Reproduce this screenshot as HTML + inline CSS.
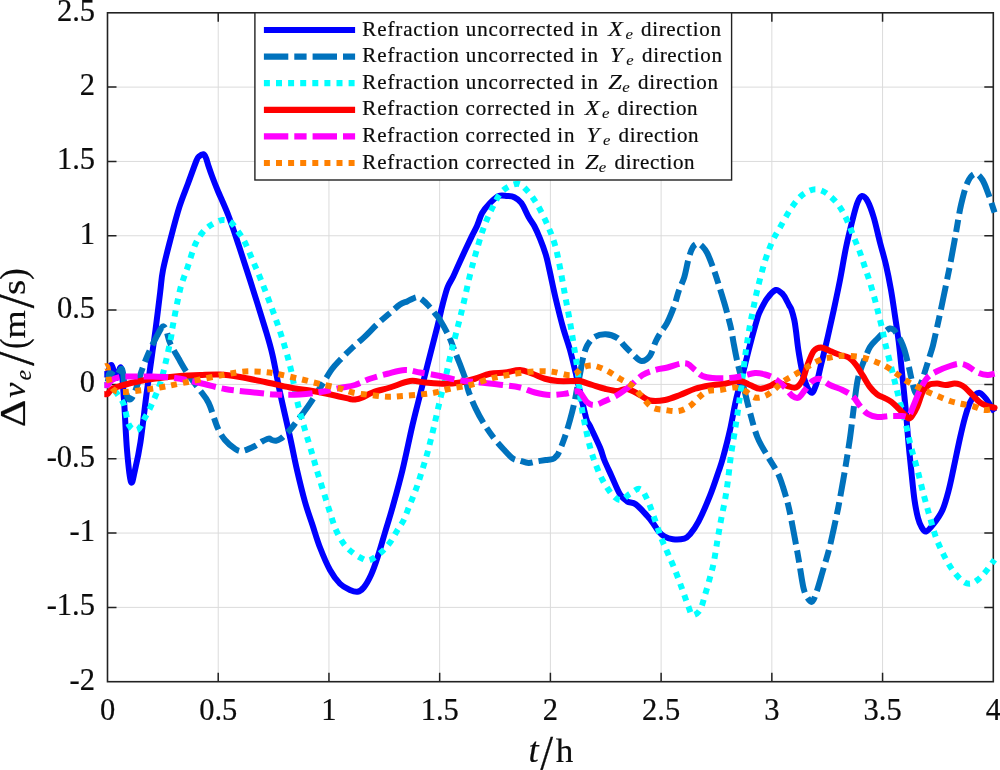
<!DOCTYPE html>
<html><head><meta charset="utf-8"><title>Refraction velocity error</title>
<style>html,body{margin:0;padding:0;background:#fff}svg{display:block}text{font-family:"Liberation Serif",serif;fill:#0c0c0c;stroke:#0c0c0c;stroke-width:.22px}.tk{font-size:30.5px}.lb{font-size:34px}.lg{font-size:21px}.it{font-style:italic}</style></head><body>
<svg width="1000" height="770" viewBox="0 0 1000 770">
<rect width="1000" height="770" fill="#fff"/>
<path d="M218.22,12.8V681.7M328.95,12.8V681.7M439.67,12.8V681.7M550.40,12.8V681.7M661.12,12.8V681.7M771.85,12.8V681.7M882.57,12.8V681.7M107.5,607.38H993.3M107.5,533.06H993.3M107.5,458.73H993.3M107.5,384.41H993.3M107.5,310.09H993.3M107.5,235.77H993.3M107.5,161.44H993.3M107.5,87.12H993.3" stroke="#dbdbdb" stroke-width="1" fill="none"/>
<path d="M218.22,681.7v-9M218.22,12.8v9M328.95,681.7v-9M328.95,12.8v9M439.67,681.7v-9M439.67,12.8v9M550.40,681.7v-9M550.40,12.8v9M661.12,681.7v-9M661.12,12.8v9M771.85,681.7v-9M771.85,12.8v9M882.57,681.7v-9M882.57,12.8v9M107.5,607.38h9M993.3,607.38h-9M107.5,533.06h9M993.3,533.06h-9M107.5,458.73h9M993.3,458.73h-9M107.5,384.41h9M993.3,384.41h-9M107.5,310.09h9M993.3,310.09h-9M107.5,235.77h9M993.3,235.77h-9M107.5,161.44h9M993.3,161.44h-9M107.5,87.12h9M993.3,87.12h-9" stroke="#222222" stroke-width="1.5" fill="none"/>
<rect x="107.5" y="12.8" width="885.8" height="668.9000000000001" fill="none" stroke="#222222" stroke-width="1.6"/>
<g fill="none" stroke-linejoin="round">
<path id="cB" d="M104.30,374.00C104.83,374.00 106.30,375.50 107.50,374.00C108.70,372.50 110.00,364.33 111.50,365.00C113.00,365.67 114.92,377.50 116.50,378.00C118.08,378.50 119.75,364.33 121.00,368.00C122.25,371.67 123.00,386.33 124.00,400.00C125.00,413.67 125.83,436.33 127.00,450.00C128.17,463.67 129.67,478.67 131.00,482.00C132.33,485.33 133.42,476.67 135.00,470.00C136.58,463.33 138.60,454.50 140.50,442.00C142.40,429.50 144.48,409.50 146.40,395.00C148.32,380.50 150.48,365.83 152.00,355.00C153.52,344.17 154.13,340.50 155.50,330.00C156.87,319.50 158.95,302.00 160.20,292.00C161.45,282.00 161.27,278.88 163.00,270.00C164.73,261.12 167.88,249.23 170.60,238.75C173.32,228.27 176.37,216.39 179.30,207.10C182.23,197.81 185.33,190.77 188.20,183.00C191.07,175.23 194.70,164.92 196.50,160.50C198.30,156.08 197.85,157.53 199.00,156.50C200.15,155.47 202.23,154.05 203.40,154.30C204.57,154.55 205.15,156.05 206.00,158.00C206.85,159.95 207.50,163.00 208.50,166.00C209.50,169.00 210.50,172.00 212.00,176.00C213.50,180.00 214.73,183.33 217.50,190.00C220.27,196.67 225.08,206.83 228.60,216.00C232.12,225.17 235.03,234.33 238.60,245.00C242.17,255.67 245.60,266.17 250.00,280.00C254.40,293.83 261.25,315.50 265.00,328.00C268.75,340.50 270.00,344.25 272.50,355.00C275.00,365.75 277.08,378.83 280.00,392.50C282.92,406.17 287.17,424.08 290.00,437.00C292.83,449.92 294.50,459.17 297.00,470.00C299.50,480.83 302.42,492.83 305.00,502.00C307.58,511.17 310.00,517.42 312.50,525.00C315.00,532.58 317.08,540.00 320.00,547.50C322.92,555.00 326.67,563.96 330.00,570.00C333.33,576.04 336.67,580.42 340.00,583.75C343.33,587.08 347.08,588.67 350.00,590.00C352.92,591.33 355.21,592.17 357.50,591.75C359.79,591.33 361.50,590.29 363.75,587.50C366.00,584.71 368.71,580.00 371.00,575.00C373.29,570.00 375.17,564.58 377.50,557.50C379.83,550.42 382.50,540.83 385.00,532.50C387.50,524.17 389.58,517.92 392.50,507.50C395.42,497.08 399.17,483.75 402.50,470.00C405.83,456.25 409.58,437.50 412.50,425.00C415.42,412.50 417.50,405.00 420.00,395.00C422.50,385.00 424.58,376.50 427.50,365.00C430.42,353.50 435.00,336.00 437.50,326.00C440.00,316.00 440.83,311.42 442.50,305.00C444.17,298.58 445.75,292.17 447.50,287.50C449.25,282.83 450.92,281.35 453.00,277.00C455.08,272.65 456.93,268.05 460.00,261.40C463.07,254.75 468.55,243.05 471.40,237.10C474.25,231.15 475.32,229.72 477.10,225.70C478.88,221.68 479.95,216.78 482.10,213.00C484.25,209.22 487.25,205.83 490.00,203.00C492.75,200.17 495.75,197.17 498.60,196.00C501.45,194.83 504.48,195.78 507.10,196.00C509.72,196.22 511.92,196.13 514.30,197.30C516.68,198.47 519.02,199.72 521.40,203.00C523.78,206.28 526.45,213.17 528.60,217.00C530.75,220.83 532.40,222.40 534.30,226.00C536.20,229.60 538.10,233.88 540.00,238.60C541.90,243.32 544.20,249.40 545.70,254.30C547.20,259.20 547.33,260.62 549.00,268.00C550.67,275.38 553.38,288.75 555.70,298.60C558.02,308.45 560.52,318.53 562.90,327.10C565.28,335.67 567.87,342.37 570.00,350.00C572.13,357.63 574.37,367.40 575.70,372.90C577.03,378.40 576.28,375.57 578.00,383.00C579.72,390.43 584.00,410.33 586.00,417.50C588.00,424.67 587.67,421.00 590.00,426.00C592.33,431.00 597.62,441.83 600.00,447.50C602.38,453.17 602.40,455.30 604.30,460.00C606.20,464.70 608.78,469.98 611.40,475.70C614.02,481.42 617.38,490.02 620.00,494.30C622.62,498.58 624.48,499.73 627.10,501.40C629.72,503.07 632.37,501.92 635.70,504.30C639.03,506.68 644.23,512.60 647.10,515.70C649.97,518.80 650.98,520.28 652.90,522.90C654.82,525.52 656.70,529.15 658.60,531.40C660.50,533.65 661.92,535.08 664.30,536.40C666.68,537.72 669.57,538.93 672.90,539.30C676.23,539.67 681.45,539.43 684.30,538.60C687.15,537.77 687.62,537.17 690.00,534.30C692.38,531.43 695.27,527.83 698.60,521.40C701.93,514.97 706.67,504.03 710.00,495.70C713.33,487.37 716.45,477.68 718.60,471.40C720.75,465.12 721.00,464.90 722.90,458.00C724.80,451.10 727.82,439.67 730.00,430.00C732.18,420.33 733.92,409.17 736.00,400.00C738.08,390.83 740.17,384.17 742.50,375.00C744.83,365.83 747.50,354.50 750.00,345.00C752.50,335.50 755.83,323.60 757.50,318.00C759.17,312.40 758.40,314.63 760.00,311.40C761.60,308.17 764.48,302.17 767.10,298.60C769.72,295.03 773.07,290.72 775.70,290.00C778.33,289.28 781.00,292.40 782.90,294.30C784.80,296.20 786.00,299.45 787.10,301.40C788.20,303.35 788.78,304.65 789.50,306.00C790.22,307.35 790.60,307.17 791.40,309.50C792.20,311.83 793.53,316.42 794.30,320.00C795.07,323.58 795.26,325.58 796.00,331.00C796.74,336.42 797.46,344.75 798.75,352.50C800.04,360.25 801.71,370.83 803.75,377.50C805.79,384.17 808.96,391.25 811.00,392.50C813.04,393.75 814.33,389.58 816.00,385.00C817.67,380.42 819.08,372.83 821.00,365.00C822.92,357.17 825.38,347.17 827.50,338.00C829.62,328.83 831.67,319.67 833.75,310.00C835.83,300.33 837.96,290.42 840.00,280.00C842.04,269.58 843.92,257.50 846.00,247.50C848.08,237.50 850.58,227.50 852.50,220.00C854.42,212.50 855.92,206.50 857.50,202.50C859.08,198.50 860.33,196.25 862.00,196.00C863.67,195.75 865.54,197.42 867.50,201.00C869.46,204.58 871.67,210.58 873.75,217.50C875.83,224.42 877.96,234.58 880.00,242.50C882.04,250.42 884.17,257.08 886.00,265.00C887.83,272.92 889.50,281.50 891.00,290.00C892.50,298.50 893.71,307.33 895.00,316.00C896.29,324.67 897.50,331.75 898.75,342.00C900.00,352.25 901.29,365.75 902.50,377.50C903.71,389.25 905.00,401.58 906.00,412.50C907.00,423.42 907.58,432.92 908.50,443.00C909.42,453.08 910.50,463.50 911.50,473.00C912.50,482.50 913.42,492.50 914.50,500.00C915.58,507.50 916.83,513.50 918.00,518.00C919.17,522.50 920.17,524.75 921.50,527.00C922.83,529.25 923.96,532.04 926.00,531.50C928.04,530.96 931.00,527.33 933.75,523.75C936.50,520.17 940.00,515.62 942.50,510.00C945.00,504.38 946.88,497.08 948.75,490.00C950.62,482.92 951.88,476.17 953.75,467.50C955.62,458.83 958.12,446.33 960.00,438.00C961.88,429.67 963.33,423.42 965.00,417.50C966.67,411.58 968.33,406.25 970.00,402.50C971.67,398.75 973.33,396.58 975.00,395.00C976.67,393.42 978.17,392.38 980.00,393.00C981.83,393.62 983.92,396.12 986.00,398.75C988.08,401.38 991.07,406.54 992.50,408.75C993.93,410.96 994.25,411.44 994.60,411.98" stroke="#0000ff" stroke-width="6"/>
<path id="cD" d="M104.30,378.00C104.83,378.00 106.55,378.83 107.50,378.00C108.45,377.17 108.58,373.33 110.00,373.00C111.42,372.67 114.00,376.67 116.00,376.00C118.00,375.33 120.58,367.50 122.00,369.00C123.42,370.50 123.67,380.50 124.50,385.00C125.33,389.50 126.17,393.58 127.00,396.00C127.83,398.42 128.58,399.33 129.50,399.50C130.42,399.67 131.25,399.25 132.50,397.00C133.75,394.75 135.52,390.27 137.00,386.00C138.48,381.73 139.47,376.92 141.40,371.40C143.33,365.88 145.98,358.85 148.60,352.90C151.22,346.95 155.03,339.77 157.10,335.70C159.17,331.63 159.92,330.05 161.00,328.50C162.08,326.95 162.68,325.98 163.60,326.40C164.52,326.82 165.43,328.25 166.50,331.00C167.57,333.75 167.98,338.30 170.00,342.90C172.02,347.50 175.75,353.60 178.60,358.60C181.45,363.60 183.77,367.90 187.10,372.90C190.43,377.90 195.02,383.60 198.60,388.60C202.18,393.60 205.45,396.42 208.60,402.90C211.75,409.38 214.77,421.32 217.50,427.50C220.23,433.68 222.08,436.46 225.00,440.00C227.92,443.54 232.08,446.92 235.00,448.75C237.92,450.58 239.17,451.46 242.50,451.00C245.83,450.54 251.75,447.58 255.00,446.00C258.25,444.42 259.73,442.73 262.00,441.50C264.27,440.27 266.93,438.85 268.60,438.60C270.27,438.35 270.77,439.63 272.00,440.00C273.23,440.37 274.50,441.05 276.00,440.80C277.50,440.55 279.38,439.58 281.00,438.50C282.62,437.42 284.20,435.72 285.70,434.30C287.20,432.88 288.12,432.22 290.00,430.00C291.88,427.78 294.67,424.00 297.00,421.00C299.33,418.00 301.60,415.27 304.00,412.00C306.40,408.73 307.90,406.73 311.40,401.40C314.90,396.07 321.57,385.40 325.00,380.00C328.43,374.60 329.50,372.33 332.00,369.00C334.50,365.67 336.77,363.40 340.00,360.00C343.23,356.60 347.35,352.42 351.40,348.60C355.45,344.78 360.02,341.15 364.30,337.10C368.58,333.05 372.82,328.33 377.10,324.30C381.38,320.27 386.18,316.20 390.00,312.90C393.82,309.60 397.15,306.42 400.00,304.50C402.85,302.58 405.10,302.32 407.10,301.40C409.10,300.48 410.33,299.72 412.00,299.00C413.67,298.28 415.43,297.02 417.10,297.10C418.77,297.18 420.08,298.07 422.00,299.50C423.92,300.93 426.43,303.37 428.60,305.70C430.77,308.03 433.10,311.12 435.00,313.50C436.90,315.88 437.73,316.30 440.00,320.00C442.27,323.70 446.22,330.70 448.60,335.70C450.98,340.70 452.40,345.23 454.30,350.00C456.20,354.77 458.10,359.30 460.00,364.30C461.90,369.30 464.27,375.48 465.70,380.00C467.13,384.52 466.93,386.63 468.60,391.40C470.27,396.17 473.08,403.12 475.70,408.60C478.32,414.08 481.20,419.30 484.30,424.30C487.40,429.30 490.97,434.32 494.30,438.60C497.63,442.88 501.20,446.67 504.30,450.00C507.40,453.33 510.28,456.82 512.90,458.60C515.52,460.38 517.38,459.98 520.00,460.70C522.62,461.42 525.75,462.78 528.60,462.90C531.45,463.02 534.25,461.88 537.10,461.40C539.95,460.92 543.07,460.40 545.70,460.00C548.33,459.60 551.18,459.58 552.90,459.00C554.62,458.42 555.05,457.52 556.00,456.50C556.95,455.48 557.22,455.88 558.60,452.90C559.98,449.92 562.40,444.08 564.30,438.60C566.20,433.12 568.33,425.95 570.00,420.00C571.67,414.05 573.12,408.13 574.30,402.90C575.48,397.67 576.15,393.42 577.10,388.60C578.05,383.78 579.03,379.00 580.00,374.00C580.97,369.00 581.72,363.32 582.90,358.60C584.08,353.88 585.20,349.28 587.10,345.70C589.00,342.12 591.20,339.00 594.30,337.10C597.40,335.20 601.90,334.17 605.70,334.30C609.50,334.43 614.00,336.00 617.10,337.90C620.20,339.80 621.67,342.97 624.30,345.70C626.93,348.43 630.05,351.75 632.90,354.30C635.75,356.85 638.55,360.77 641.40,361.00C644.25,361.23 647.62,358.97 650.00,355.70C652.38,352.43 653.87,345.35 655.70,341.40C657.53,337.45 659.10,335.08 661.00,332.00C662.90,328.92 664.88,327.28 667.10,322.90C669.32,318.52 672.38,310.95 674.30,305.70C676.22,300.45 676.93,296.17 678.60,291.40C680.27,286.63 682.63,282.57 684.30,277.10C685.97,271.63 687.17,263.60 688.60,258.60C690.03,253.60 691.35,249.60 692.90,247.10C694.45,244.60 696.30,243.70 697.90,243.60C699.50,243.50 700.97,244.95 702.50,246.50C704.03,248.05 705.37,249.47 707.10,252.90C708.83,256.33 710.98,261.87 712.90,267.10C714.82,272.33 716.70,278.33 718.60,284.30C720.50,290.27 722.63,297.18 724.30,302.90C725.97,308.62 727.42,314.08 728.60,318.60C729.78,323.12 730.58,326.02 731.40,330.00C732.22,333.98 732.48,337.08 733.50,342.50C734.52,347.92 735.79,355.00 737.50,362.50C739.21,370.00 741.67,379.17 743.75,387.50C745.83,395.83 747.71,404.17 750.00,412.50C752.29,420.83 754.58,430.25 757.50,437.50C760.42,444.75 764.17,450.17 767.50,456.00C770.83,461.83 774.92,467.33 777.50,472.50C780.08,477.67 781.12,481.17 783.00,487.00C784.88,492.83 786.96,499.92 788.75,507.50C790.54,515.08 792.08,523.75 793.75,532.50C795.42,541.25 797.12,550.75 798.75,560.00C800.38,569.25 801.96,581.58 803.50,588.00C805.04,594.42 806.50,596.27 808.00,598.50C809.50,600.73 810.97,602.82 812.50,601.40C814.03,599.98 815.53,594.90 817.20,590.00C818.87,585.10 820.55,578.67 822.50,572.00C824.45,565.33 827.07,557.00 828.90,550.00C830.73,543.00 831.95,537.03 833.50,530.00C835.05,522.97 836.78,514.97 838.20,507.80C839.62,500.63 840.82,493.63 842.00,487.00C843.18,480.37 843.97,476.17 845.30,468.00C846.63,459.83 848.72,447.00 850.00,438.00C851.28,429.00 851.82,423.17 853.00,414.00C854.18,404.83 855.85,390.33 857.10,383.00C858.35,375.67 859.30,373.83 860.50,370.00C861.70,366.17 862.72,363.83 864.30,360.00C865.88,356.17 867.87,350.50 870.00,347.00C872.13,343.50 874.72,341.50 877.10,339.00C879.48,336.50 882.15,333.75 884.30,332.00C886.45,330.25 888.38,328.83 890.00,328.50C891.62,328.17 892.82,329.03 894.00,330.00C895.18,330.97 895.93,332.47 897.10,334.30C898.27,336.13 899.80,338.47 901.00,341.00C902.20,343.53 903.03,345.38 904.30,349.50C905.57,353.62 907.42,360.85 908.60,365.70C909.78,370.55 910.45,374.55 911.40,378.60C912.35,382.65 913.48,387.52 914.30,390.00C915.12,392.48 915.60,393.50 916.30,393.50C917.00,393.50 917.63,391.92 918.50,390.00C919.37,388.08 920.42,385.10 921.50,382.00C922.58,378.90 923.75,375.32 925.00,371.40C926.25,367.48 927.68,362.78 929.00,358.50C930.32,354.22 931.73,350.12 932.90,345.70C934.07,341.28 934.93,336.77 936.00,332.00C937.07,327.23 937.63,324.93 939.30,317.10C940.97,309.27 944.05,294.52 946.00,285.00C947.95,275.48 949.33,268.75 951.00,260.00C952.67,251.25 954.33,241.67 956.00,232.50C957.67,223.33 959.08,213.33 961.00,205.00C962.92,196.67 965.17,187.71 967.50,182.50C969.83,177.29 972.50,174.17 975.00,173.75C977.50,173.33 980.21,176.46 982.50,180.00C984.79,183.54 986.88,190.00 988.75,195.00C990.62,200.00 992.77,207.07 993.75,210.00C994.73,212.93 994.46,212.13 994.60,212.55" stroke="#0072bd" stroke-width="6" stroke-dasharray="24.4 6 12.3 6" stroke-dashoffset="29.16"/>
<path id="cC" d="M104.30,385.00C104.83,385.00 106.22,384.50 107.50,385.00C108.78,385.50 110.25,386.33 112.00,388.00C113.75,389.67 116.00,392.17 118.00,395.00C120.00,397.83 122.17,400.00 124.00,405.00C125.83,410.00 126.75,420.83 129.00,425.00C131.25,429.17 134.83,431.25 137.50,430.00C140.17,428.75 142.75,421.50 145.00,417.50C147.25,413.50 148.50,411.58 151.00,406.00C153.50,400.42 157.50,391.50 160.00,384.00C162.50,376.50 164.17,368.75 166.00,361.00C167.83,353.25 169.92,343.08 171.00,337.50C172.08,331.92 171.00,335.42 172.50,327.50C174.00,319.58 177.50,300.00 180.00,290.00C182.50,280.00 185.00,275.00 187.50,267.50C190.00,260.00 192.50,250.83 195.00,245.00C197.50,239.17 199.83,235.83 202.50,232.50C205.17,229.17 207.67,227.08 211.00,225.00C214.33,222.92 219.17,220.42 222.50,220.00C225.83,219.58 228.29,220.42 231.00,222.50C233.71,224.58 236.42,229.17 238.75,232.50C241.08,235.83 242.71,237.92 245.00,242.50C247.29,247.08 250.00,254.17 252.50,260.00C255.00,265.83 257.29,270.83 260.00,277.50C262.71,284.17 265.83,292.25 268.75,300.00C271.67,307.75 274.79,316.08 277.50,324.00C280.21,331.92 282.75,339.83 285.00,347.50C287.25,355.17 288.92,360.83 291.00,370.00C293.08,379.17 295.17,392.50 297.50,402.50C299.83,412.50 302.50,421.25 305.00,430.00C307.50,438.75 310.42,447.92 312.50,455.00C314.58,462.08 315.62,466.25 317.50,472.50C319.38,478.75 321.67,485.83 323.75,492.50C325.83,499.17 327.96,506.25 330.00,512.50C332.04,518.75 333.71,524.79 336.00,530.00C338.29,535.21 341.00,540.00 343.75,543.75C346.50,547.50 349.38,550.00 352.50,552.50C355.62,555.00 359.58,557.50 362.50,558.75C365.42,560.00 366.92,561.04 370.00,560.00C373.08,558.96 377.67,555.42 381.00,552.50C384.33,549.58 387.25,546.25 390.00,542.50C392.75,538.75 395.21,533.75 397.50,530.00C399.79,526.25 401.88,523.75 403.75,520.00C405.62,516.25 407.08,511.67 408.75,507.50C410.42,503.33 412.29,498.75 413.75,495.00C415.21,491.25 416.29,488.50 417.50,485.00C418.71,481.50 419.33,479.42 421.00,474.00C422.67,468.58 425.38,460.25 427.50,452.50C429.62,444.75 431.67,436.25 433.75,427.50C435.83,418.75 438.12,407.92 440.00,400.00C441.88,392.08 443.33,387.08 445.00,380.00C446.67,372.92 448.33,364.58 450.00,357.50C451.67,350.42 453.42,343.75 455.00,337.50C456.58,331.25 458.04,325.83 459.50,320.00C460.96,314.17 462.00,310.00 463.75,302.50C465.50,295.00 467.96,283.33 470.00,275.00C472.04,266.67 473.71,260.42 476.00,252.50C478.29,244.58 481.00,235.00 483.75,227.50C486.50,220.00 489.38,213.58 492.50,207.50C495.62,201.42 498.33,194.96 502.50,191.00C506.67,187.04 513.33,183.75 517.50,183.75C521.67,183.75 524.17,187.46 527.50,191.00C530.83,194.54 534.17,199.33 537.50,205.00C540.83,210.67 544.58,218.33 547.50,225.00C550.42,231.67 552.92,237.92 555.00,245.00C557.08,252.08 558.33,259.17 560.00,267.50C561.67,275.83 563.33,285.92 565.00,295.00C566.67,304.08 568.54,313.67 570.00,322.00C571.46,330.33 572.50,337.00 573.75,345.00C575.00,353.00 576.29,360.42 577.50,370.00C578.71,379.58 579.75,393.33 581.00,402.50C582.25,411.67 583.50,417.58 585.00,425.00C586.50,432.42 588.33,440.75 590.00,447.00C591.67,453.25 592.92,457.00 595.00,462.50C597.08,468.00 599.58,474.58 602.50,480.00C605.42,485.42 609.42,491.67 612.50,495.00C615.58,498.33 618.08,500.21 621.00,500.00C623.92,499.79 626.83,495.58 630.00,493.75C633.17,491.92 637.08,487.96 640.00,489.00C642.92,490.04 645.00,494.83 647.50,500.00C650.00,505.17 652.75,513.75 655.00,520.00C657.25,526.25 658.92,532.08 661.00,537.50C663.08,542.92 665.17,547.08 667.50,552.50C669.83,557.92 672.50,563.75 675.00,570.00C677.50,576.25 680.21,583.75 682.50,590.00C684.79,596.25 687.08,603.33 688.75,607.50C690.42,611.67 690.62,614.58 692.50,615.00C694.38,615.42 697.92,613.33 700.00,610.00C702.08,606.67 703.33,600.42 705.00,595.00C706.67,589.58 708.54,582.92 710.00,577.50C711.46,572.08 712.50,568.75 713.75,562.50C715.00,556.25 716.29,547.08 717.50,540.00C718.71,532.92 719.75,526.67 721.00,520.00C722.25,513.33 723.83,506.67 725.00,500.00C726.17,493.33 727.00,487.50 728.00,480.00C729.00,472.50 729.83,463.33 731.00,455.00C732.17,446.67 733.71,438.33 735.00,430.00C736.29,421.67 737.50,413.75 738.75,405.00C740.00,396.25 741.29,386.67 742.50,377.50C743.71,368.33 744.75,358.75 746.00,350.00C747.25,341.25 748.92,331.25 750.00,325.00C751.08,318.75 751.25,318.50 752.50,312.50C753.75,306.50 755.42,297.58 757.50,289.00C759.58,280.42 762.50,269.00 765.00,261.00C767.50,253.00 770.00,246.58 772.50,241.00C775.00,235.42 777.08,232.67 780.00,227.50C782.92,222.33 786.67,215.08 790.00,210.00C793.33,204.92 796.67,200.25 800.00,197.00C803.33,193.75 807.00,191.75 810.00,190.50C813.00,189.25 815.08,188.92 818.00,189.50C820.92,190.08 824.25,191.62 827.50,194.00C830.75,196.38 834.58,200.08 837.50,203.75C840.42,207.42 842.92,212.04 845.00,216.00C847.08,219.96 848.33,223.50 850.00,227.50C851.67,231.50 853.33,235.83 855.00,240.00C856.67,244.17 858.33,247.92 860.00,252.50C861.67,257.08 863.33,262.50 865.00,267.50C866.67,272.50 868.33,277.08 870.00,282.50C871.67,287.92 873.54,294.58 875.00,300.00C876.46,305.42 877.50,310.00 878.75,315.00C880.00,320.00 881.46,325.42 882.50,330.00C883.54,334.58 883.75,337.08 885.00,342.50C886.25,347.92 888.33,355.83 890.00,362.50C891.67,369.17 893.33,375.83 895.00,382.50C896.67,389.17 898.17,395.42 900.00,402.50C901.83,409.58 904.17,417.58 906.00,425.00C907.83,432.42 909.08,439.50 911.00,447.00C912.92,454.50 915.38,462.00 917.50,470.00C919.62,478.00 921.67,487.08 923.75,495.00C925.83,502.92 927.96,510.42 930.00,517.50C932.04,524.58 933.71,531.25 936.00,537.50C938.29,543.75 941.00,549.58 943.75,555.00C946.50,560.42 949.38,565.67 952.50,570.00C955.62,574.33 959.58,578.71 962.50,581.00C965.42,583.29 967.50,583.92 970.00,583.75C972.50,583.58 975.00,581.88 977.50,580.00C980.00,578.12 982.50,575.42 985.00,572.50C987.50,569.58 990.90,564.63 992.50,562.50C994.10,560.37 994.25,560.17 994.60,559.70" stroke="#00ffff" stroke-width="6" stroke-dasharray="6 6.1" stroke-dashoffset="11.91"/>
<path id="cR" d="M104.30,394.00C104.83,394.00 106.22,394.83 107.50,394.00C108.78,393.17 109.92,390.33 112.00,389.00C114.08,387.67 115.33,387.33 120.00,386.00C124.67,384.67 133.33,382.33 140.00,381.00C146.67,379.67 153.33,378.83 160.00,378.00C166.67,377.17 173.33,376.50 180.00,376.00C186.67,375.50 193.33,375.25 200.00,375.00C206.67,374.75 213.33,374.17 220.00,374.50C226.67,374.83 232.50,375.75 240.00,377.00C247.50,378.25 256.67,380.25 265.00,382.00C273.33,383.75 282.08,386.00 290.00,387.50C297.92,389.00 305.00,389.67 312.50,391.00C320.00,392.33 328.75,394.17 335.00,395.50C341.25,396.83 346.67,398.33 350.00,399.00C353.33,399.67 352.92,399.75 355.00,399.50C357.08,399.25 359.58,398.67 362.50,397.50C365.42,396.33 367.92,394.17 372.50,392.50C377.08,390.83 383.75,389.42 390.00,387.50C396.25,385.58 404.17,381.83 410.00,381.00C415.83,380.17 419.17,382.04 425.00,382.50C430.83,382.96 439.17,383.75 445.00,383.75C450.83,383.75 455.00,383.33 460.00,382.50C465.00,381.67 470.00,380.21 475.00,378.75C480.00,377.29 485.00,374.79 490.00,373.75C495.00,372.71 500.00,373.12 505.00,372.50C510.00,371.88 515.42,369.79 520.00,370.00C524.58,370.21 528.33,372.29 532.50,373.75C536.67,375.21 540.83,377.54 545.00,378.75C549.17,379.96 552.50,380.62 557.50,381.00C562.50,381.38 571.25,381.00 575.00,381.00C578.75,381.00 577.08,380.33 580.00,381.00C582.92,381.67 588.33,383.71 592.50,385.00C596.67,386.29 600.83,387.75 605.00,388.75C609.17,389.75 613.75,390.96 617.50,391.00C621.25,391.04 623.75,388.33 627.50,389.00C631.25,389.67 636.25,393.08 640.00,395.00C643.75,396.92 645.83,399.67 650.00,400.50C654.17,401.33 660.00,400.92 665.00,400.00C670.00,399.08 675.00,396.88 680.00,395.00C685.00,393.12 690.00,390.33 695.00,388.75C700.00,387.17 705.00,386.33 710.00,385.50C715.00,384.67 720.00,384.50 725.00,383.75C730.00,383.00 735.83,380.79 740.00,381.00C744.17,381.21 746.67,383.71 750.00,385.00C753.33,386.29 756.67,388.58 760.00,388.75C763.33,388.92 767.08,387.04 770.00,386.00C772.92,384.96 774.58,382.50 777.50,382.50C780.42,382.50 784.42,385.17 787.50,386.00C790.58,386.83 793.50,388.50 796.00,387.50C798.50,386.50 800.58,383.75 802.50,380.00C804.42,376.25 805.62,369.83 807.50,365.00C809.38,360.17 811.50,353.92 813.75,351.00C816.00,348.08 818.29,347.50 821.00,347.50C823.71,347.50 826.83,349.75 830.00,351.00C833.17,352.25 836.90,353.92 840.00,355.00C843.10,356.08 845.98,355.92 848.60,357.50C851.22,359.08 853.32,361.47 855.70,364.50C858.08,367.53 860.52,371.93 862.90,375.70C865.28,379.47 867.63,384.00 870.00,387.10C872.37,390.20 874.72,392.50 877.10,394.30C879.48,396.10 881.92,396.65 884.30,397.90C886.68,399.15 889.02,400.02 891.40,401.80C893.78,403.58 896.22,406.28 898.60,408.60C900.98,410.92 903.97,414.05 905.70,415.70C907.43,417.35 907.95,418.45 909.00,418.50C910.05,418.55 910.65,417.92 912.00,416.00C913.35,414.08 915.28,411.10 917.10,407.00C918.92,402.90 920.98,395.07 922.90,391.40C924.82,387.73 926.23,386.30 928.60,385.00C930.97,383.70 934.25,383.60 937.10,383.60C939.95,383.60 942.83,385.00 945.70,385.00C948.57,385.00 951.92,383.68 954.30,383.60C956.68,383.52 958.22,383.85 960.00,384.50C961.78,385.15 962.92,385.75 965.00,387.50C967.08,389.25 970.00,392.50 972.50,395.00C975.00,397.50 977.50,400.67 980.00,402.50C982.50,404.33 985.21,405.17 987.50,406.00C989.79,406.83 992.57,407.22 993.75,407.50C994.93,407.78 994.46,407.67 994.60,407.70" stroke="#ff0000" stroke-width="6"/>
<path id="cM" d="M104.30,385.00C104.83,385.00 106.22,385.83 107.50,385.00C108.78,384.17 109.92,381.33 112.00,380.00C114.08,378.67 117.00,377.58 120.00,377.00C123.00,376.42 125.00,376.58 130.00,376.50C135.00,376.42 142.50,376.25 150.00,376.50C157.50,376.75 166.67,376.92 175.00,378.00C183.33,379.08 191.67,381.17 200.00,383.00C208.33,384.83 216.67,387.50 225.00,389.00C233.33,390.50 241.67,391.08 250.00,392.00C258.33,392.92 266.67,394.08 275.00,394.50C283.33,394.92 292.50,394.92 300.00,394.50C307.50,394.08 313.33,393.08 320.00,392.00C326.67,390.92 334.17,389.17 340.00,388.00C345.83,386.83 350.00,386.54 355.00,385.00C360.00,383.46 364.58,380.62 370.00,378.75C375.42,376.88 381.67,375.21 387.50,373.75C393.33,372.29 399.58,370.21 405.00,370.00C410.42,369.79 414.17,371.50 420.00,372.50C425.83,373.50 433.75,374.75 440.00,376.00C446.25,377.25 450.83,378.92 457.50,380.00C464.17,381.08 472.50,381.67 480.00,382.50C487.50,383.33 495.83,384.17 502.50,385.00C509.17,385.83 514.58,386.25 520.00,387.50C525.42,388.75 530.00,391.25 535.00,392.50C540.00,393.75 545.00,394.79 550.00,395.00C555.00,395.21 560.83,394.33 565.00,393.75C569.17,393.17 572.50,391.71 575.00,391.50C577.50,391.29 577.92,390.67 580.00,392.50C582.08,394.33 585.00,400.42 587.50,402.50C590.00,404.58 592.08,405.25 595.00,405.00C597.92,404.75 601.25,402.67 605.00,401.00C608.75,399.33 613.33,397.50 617.50,395.00C621.67,392.50 625.83,389.33 630.00,386.00C634.17,382.67 638.33,377.67 642.50,375.00C646.67,372.33 650.83,371.25 655.00,370.00C659.17,368.75 663.33,368.54 667.50,367.50C671.67,366.46 676.67,364.38 680.00,363.75C683.33,363.12 685.00,362.71 687.50,363.75C690.00,364.79 692.50,367.96 695.00,370.00C697.50,372.04 699.58,374.67 702.50,376.00C705.42,377.33 707.92,377.67 712.50,378.00C717.08,378.33 725.00,378.33 730.00,378.00C735.00,377.67 738.33,376.83 742.50,376.00C746.67,375.17 751.25,373.25 755.00,373.00C758.75,372.75 761.67,373.54 765.00,374.50C768.33,375.46 771.67,376.58 775.00,378.75C778.33,380.92 782.08,384.62 785.00,387.50C787.92,390.38 790.21,394.33 792.50,396.00C794.79,397.67 796.67,398.50 798.75,397.50C800.83,396.50 802.71,392.75 805.00,390.00C807.29,387.25 810.00,382.83 812.50,381.00C815.00,379.17 817.08,378.33 820.00,379.00C822.92,379.67 826.25,383.17 830.00,385.00C833.75,386.83 838.75,388.17 842.50,390.00C846.25,391.83 849.58,393.33 852.50,396.00C855.42,398.67 857.50,403.04 860.00,406.00C862.50,408.96 864.58,411.92 867.50,413.75C870.42,415.58 873.75,416.62 877.50,417.00C881.25,417.38 885.83,416.17 890.00,416.00C894.17,415.83 899.38,416.00 902.50,416.00C905.62,416.00 906.88,417.83 908.75,416.00C910.62,414.17 911.88,409.33 913.75,405.00C915.62,400.67 917.71,394.58 920.00,390.00C922.29,385.42 924.58,380.67 927.50,377.50C930.42,374.33 933.75,372.92 937.50,371.00C941.25,369.08 946.25,367.21 950.00,366.00C953.75,364.79 957.08,363.75 960.00,363.75C962.92,363.75 964.58,364.54 967.50,366.00C970.42,367.46 974.17,371.00 977.50,372.50C980.83,374.00 984.79,374.79 987.50,375.00C990.21,375.21 992.57,373.99 993.75,373.75C994.93,373.51 994.46,373.61 994.60,373.58" stroke="#ff00ff" stroke-width="6" stroke-dasharray="24.4 6 12.3 6" stroke-dashoffset="6.37"/>
<path id="cO" d="M104.30,367.00C104.83,367.00 106.72,364.83 107.50,367.00C108.28,369.17 108.08,376.33 109.00,380.00C109.92,383.67 111.17,387.00 113.00,389.00C114.83,391.00 116.33,391.67 120.00,392.00C123.67,392.33 128.33,391.75 135.00,391.00C141.67,390.25 152.50,388.75 160.00,387.50C167.50,386.25 173.33,384.83 180.00,383.50C186.67,382.17 192.50,381.00 200.00,379.50C207.50,378.00 217.50,375.83 225.00,374.50C232.50,373.17 238.33,371.92 245.00,371.50C251.67,371.08 259.17,371.50 265.00,372.00C270.83,372.50 274.17,373.33 280.00,374.50C285.83,375.67 293.33,377.42 300.00,379.00C306.67,380.58 313.33,382.42 320.00,384.00C326.67,385.58 334.58,387.08 340.00,388.50C345.42,389.92 347.50,391.42 352.50,392.50C357.50,393.58 364.17,394.29 370.00,395.00C375.83,395.71 382.08,396.58 387.50,396.75C392.92,396.92 397.08,396.38 402.50,396.00C407.92,395.62 414.58,395.08 420.00,394.50C425.42,393.92 430.00,393.46 435.00,392.50C440.00,391.54 444.17,390.00 450.00,388.75C455.83,387.50 463.33,386.67 470.00,385.00C476.67,383.33 484.17,380.33 490.00,378.75C495.83,377.17 500.00,376.46 505.00,375.50C510.00,374.54 514.58,373.71 520.00,373.00C525.42,372.29 532.08,371.46 537.50,371.25C542.92,371.04 547.50,371.12 552.50,371.75C557.50,372.38 563.75,374.62 567.50,375.00C571.25,375.38 572.58,375.17 575.00,374.00C577.42,372.83 579.50,369.42 582.00,368.00C584.50,366.58 587.50,365.75 590.00,365.50C592.50,365.25 594.08,365.58 597.00,366.50C599.92,367.42 603.67,368.96 607.50,371.00C611.33,373.04 615.83,376.25 620.00,378.75C624.17,381.25 628.75,382.88 632.50,386.00C636.25,389.12 639.17,393.92 642.50,397.50C645.83,401.08 648.75,405.42 652.50,407.50C656.25,409.58 660.62,409.42 665.00,410.00C669.38,410.58 674.58,411.67 678.75,411.00C682.92,410.33 686.67,408.25 690.00,406.00C693.33,403.75 695.83,400.00 698.75,397.50C701.67,395.00 703.96,392.25 707.50,391.00C711.04,389.75 715.42,390.58 720.00,390.00C724.58,389.42 730.83,387.33 735.00,387.50C739.17,387.67 741.67,389.33 745.00,391.00C748.33,392.67 751.67,396.67 755.00,397.50C758.33,398.33 761.88,397.25 765.00,396.00C768.12,394.75 770.83,392.33 773.75,390.00C776.67,387.67 779.38,384.33 782.50,382.00C785.62,379.67 789.17,378.00 792.50,376.00C795.83,374.00 799.17,372.04 802.50,370.00C805.83,367.96 809.17,365.58 812.50,363.75C815.83,361.92 819.58,360.04 822.50,359.00C825.42,357.96 827.29,358.00 830.00,357.50C832.71,357.00 835.42,356.25 838.75,356.00C842.08,355.75 846.04,355.75 850.00,356.00C853.96,356.25 858.54,356.67 862.50,357.50C866.46,358.33 870.00,359.58 873.75,361.00C877.50,362.42 881.46,364.08 885.00,366.00C888.54,367.92 891.67,370.17 895.00,372.50C898.33,374.83 901.50,377.75 905.00,380.00C908.50,382.25 912.50,384.17 916.00,386.00C919.50,387.83 922.42,389.33 926.00,391.00C929.58,392.67 933.50,394.33 937.50,396.00C941.50,397.67 946.08,399.71 950.00,401.00C953.92,402.29 957.25,402.92 961.00,403.75C964.75,404.58 968.71,404.96 972.50,406.00C976.29,407.04 980.21,409.54 983.75,410.00C987.29,410.46 991.94,408.98 993.75,408.75C995.56,408.52 994.46,408.66 994.60,408.64" stroke="#ff8000" stroke-width="6" stroke-dasharray="6 6.1" stroke-dashoffset="10.56"/>
</g>
<text class="tk" x="107.5" y="720" text-anchor="middle">0</text>
<text class="tk" x="218.2" y="720" text-anchor="middle">0.5</text>
<text class="tk" x="328.9" y="720" text-anchor="middle">1</text>
<text class="tk" x="439.7" y="720" text-anchor="middle">1.5</text>
<text class="tk" x="550.4" y="720" text-anchor="middle">2</text>
<text class="tk" x="661.1" y="720" text-anchor="middle">2.5</text>
<text class="tk" x="771.8" y="720" text-anchor="middle">3</text>
<text class="tk" x="882.6" y="720" text-anchor="middle">3.5</text>
<text class="tk" x="993.3" y="720" text-anchor="middle">4</text>
<text class="tk" x="95" y="689.5" text-anchor="end">-2</text>
<text class="tk" x="95" y="615.2" text-anchor="end">-1.5</text>
<text class="tk" x="95" y="540.9" text-anchor="end">-1</text>
<text class="tk" x="95" y="466.5" text-anchor="end">-0.5</text>
<text class="tk" x="95" y="392.2" text-anchor="end">0</text>
<text class="tk" x="95" y="317.9" text-anchor="end">0.5</text>
<text class="tk" x="95" y="243.6" text-anchor="end">1</text>
<text class="tk" x="95" y="169.2" text-anchor="end">1.5</text>
<text class="tk" x="95" y="94.9" text-anchor="end">2</text>
<text class="tk" x="95" y="20.6" text-anchor="end">2.5</text>
<g><text class="it" stroke-width="0.218192" font-size="40" transform="translate(528.39,761.64) scale(0.9157,0.9166)">t</text><text stroke-width="0.159748" font-size="40" transform="translate(540.00,769.71) scale(1.1698,1.2520)">/</text><text stroke-width="0.227167" font-size="40" transform="translate(555.66,761.70) scale(0.8804,0.8431)">h</text></g>
<g transform="translate(25.4,427) rotate(-90)"><text stroke-width="0.186793" font-size="40" transform="translate(-0.33,-0.30) scale(1.0707,0.9051)">Δ</text><text class="it" stroke-width="0.235713" font-size="40" transform="translate(29.24,-0.11) scale(0.8485,0.8053)">v</text><text class="it" stroke-width="0.331695" font-size="40" transform="translate(46.48,5.66) scale(0.5888,0.6030)">e</text><text stroke-width="0.158761" font-size="40" transform="translate(61.30,7.21) scale(1.2598,1.2594)">/</text><text stroke-width="0.210258" font-size="40" transform="translate(77.90,0.40) scale(0.7982,0.9512)">(</text><text stroke-width="0.220434" font-size="40" transform="translate(88.44,0.00) scale(0.9073,0.8065)">m</text><text stroke-width="0.1588" font-size="40" transform="translate(118.80,7.21) scale(1.2328,1.2594)">/</text><text stroke-width="0.202934" font-size="40" transform="translate(132.08,-0.02) scale(0.9855,0.8213)">s</text><text stroke-width="0.210258" font-size="40" transform="translate(147.20,0.40) scale(0.8566,0.9512)">)</text></g>
<rect x="254.9" y="12.8" width="476.70000000000005" height="167.2" fill="#fff" stroke="#222222" stroke-width="1.4"/>
<path d="M263.9,30.0H355.1" stroke="#0000ff" stroke-width="6.2" fill="none"/>
<text class="lg" x="362.3" y="35.6" textLength="235.6" lengthAdjust="spacing">Refraction uncorrected in</text>
<text class="it" stroke-width="0.327888" font-size="40" transform="translate(608.11,35.60) scale(0.6100,0.5307)">X</text>
<text class="it" stroke-width="0.473485" font-size="40" transform="translate(625.38,38.57) scale(0.4224,0.3431)">e</text>
<text class="lg" x="641.0" y="35.6" textLength="80" lengthAdjust="spacing">direction</text>
<path d="M263.9,56.6H355.1" stroke="#0072bd" stroke-width="6.2" fill="none" stroke-dasharray="24.4 6 12.3 6"/>
<text class="lg" x="362.3" y="62.2" textLength="235.6" lengthAdjust="spacing">Refraction uncorrected in</text>
<text class="it" stroke-width="0.335938" font-size="40" transform="translate(609.64,62.20) scale(0.5953,0.5307)">Y</text>
<text class="it" stroke-width="0.480769" font-size="40" transform="translate(626.29,65.17) scale(0.4160,0.3431)">e</text>
<text class="lg" x="642.0" y="62.2" textLength="80" lengthAdjust="spacing">direction</text>
<path d="M263.9,83.2H355.1" stroke="#00ffff" stroke-width="6.2" fill="none" stroke-dasharray="6 6.1"/>
<text class="lg" x="362.3" y="88.8" textLength="235.6" lengthAdjust="spacing">Refraction uncorrected in</text>
<text class="it" stroke-width="0.329699" font-size="40" transform="translate(608.30,88.80) scale(0.6066,0.5307)">Z</text>
<text class="it" stroke-width="0.473485" font-size="40" transform="translate(622.18,91.77) scale(0.4224,0.3431)">e</text>
<text class="lg" x="638.0" y="88.8" textLength="80" lengthAdjust="spacing">direction</text>
<path d="M263.9,109.8H355.1" stroke="#ff0000" stroke-width="6.2" fill="none"/>
<text class="lg" x="362.3" y="115.4" textLength="212.2" lengthAdjust="spacing">Refraction corrected in</text>
<text class="it" stroke-width="0.327888" font-size="40" transform="translate(584.71,115.40) scale(0.6100,0.5307)">X</text>
<text class="it" stroke-width="0.473485" font-size="40" transform="translate(601.98,118.37) scale(0.4224,0.3431)">e</text>
<text class="lg" x="617.6" y="115.4" textLength="80" lengthAdjust="spacing">direction</text>
<path d="M263.9,136.4H355.1" stroke="#ff00ff" stroke-width="6.2" fill="none" stroke-dasharray="24.4 6 12.3 6"/>
<text class="lg" x="362.3" y="142.0" textLength="212.2" lengthAdjust="spacing">Refraction corrected in</text>
<text class="it" stroke-width="0.335938" font-size="40" transform="translate(586.24,142.00) scale(0.5953,0.5307)">Y</text>
<text class="it" stroke-width="0.480769" font-size="40" transform="translate(602.89,144.97) scale(0.4160,0.3431)">e</text>
<text class="lg" x="618.6" y="142.0" textLength="80" lengthAdjust="spacing">direction</text>
<path d="M263.9,163.0H355.1" stroke="#ff8000" stroke-width="6.2" fill="none" stroke-dasharray="6 6.1"/>
<text class="lg" x="362.3" y="168.6" textLength="212.2" lengthAdjust="spacing">Refraction corrected in</text>
<text class="it" stroke-width="0.329699" font-size="40" transform="translate(584.90,168.60) scale(0.6066,0.5307)">Z</text>
<text class="it" stroke-width="0.473485" font-size="40" transform="translate(598.78,171.57) scale(0.4224,0.3431)">e</text>
<text class="lg" x="614.6" y="168.6" textLength="80" lengthAdjust="spacing">direction</text>
</svg></body></html>
